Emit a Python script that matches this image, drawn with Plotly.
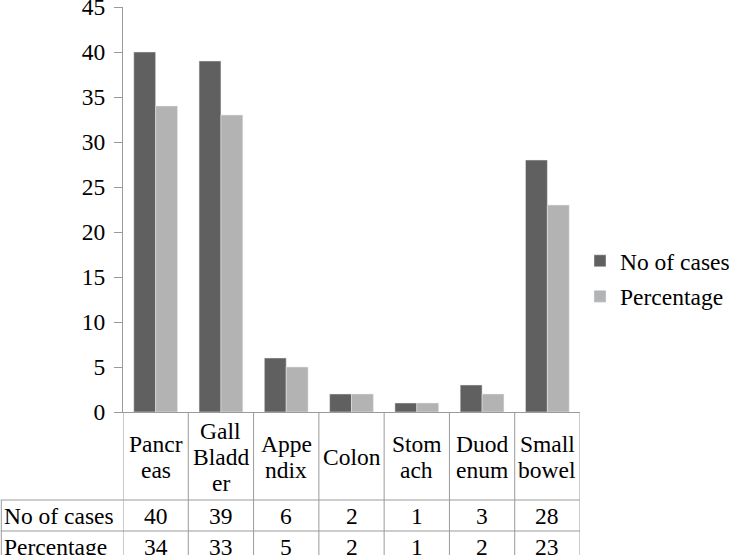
import plotly.graph_objects as go

categories = ["Pancreas", "Gall Bladder", "Appendix", "Colon", "Stomach", "Duodenum", "Small bowel"]
cat_labels = [["Pancr", "eas"], ["Gall", "Bladd", "er"], ["Appe", "ndix"], ["Colon"],
              ["Stom", "ach"], ["Duod", "enum"], ["Small", "bowel"]]
no_of_cases = [40, 39, 6, 2, 1, 3, 28]
percentage = [34, 33, 5, 2, 1, 2, 23]
series_names = ["No of cases", "Percentage"]

FONT = "Times New Roman, Liberation Serif, serif"
FS = 23.5
DARK = "#606060"
LIGHT = "#b3b3b3"
LINE = "#9a9a9a"

W, H = 732, 555
L, R, T, B = 123, 149, 7, 143
PW = W - L - R
PH = H - T - B

def py(pix):
    return (H - B - pix) / PH

def px(pix):
    return (pix - L) / PW

xs = list(range(len(categories)))

fig = go.Figure()
fig.add_trace(go.Bar(x=xs, y=no_of_cases, name=series_names[0], marker_color=DARK, legendgroup="a"))
fig.add_trace(go.Bar(x=xs, y=percentage, name=series_names[1], marker_color=LIGHT, legendgroup="b"))

shapes = []
annotations = []
y_cat_bottom = 500
y_row1_bottom = 531
y_row2_bottom = 562

for i in range(len(categories) + 1):
    shapes.append(dict(type="line", xref="x", yref="paper", x0=i - 0.5, x1=i - 0.5,
                       y0=0, y1=py(y_row2_bottom), line=dict(color=LINE, width=1)))
shapes.append(dict(type="line", xref="paper", yref="paper", x0=px(0.5), x1=px(0.5),
                   y0=py(y_cat_bottom), y1=py(y_row2_bottom), line=dict(color=LINE, width=1)))
for yy in [y_cat_bottom, y_row1_bottom]:
    shapes.append(dict(type="line", xref="paper", yref="paper", x0=px(0), x1=1,
                       y0=py(yy), y1=py(yy), line=dict(color=LINE, width=1)))

LH = 26
mid = 457
for i, lines in enumerate(cat_labels):
    n = len(lines)
    for k, ln in enumerate(lines):
        yc = mid + (k - (n - 1) / 2) * LH
        annotations.append(dict(x=i, xref="x", y=py(yc), yref="paper",
                                text=ln, showarrow=False, xanchor="center", yanchor="middle",
                                font=dict(family=FONT, size=FS, color="black")))
rows = [(series_names[0], no_of_cases, (y_cat_bottom + y_row1_bottom) / 2),
        (series_names[1], percentage, (y_row1_bottom + y_row2_bottom) / 2)]
for name, vals, yc in rows:
    annotations.append(dict(x=px(1), xref="paper", y=py(yc), yref="paper", text=name,
                            showarrow=False, xanchor="left", yanchor="middle",
                            font=dict(family=FONT, size=FS, color="black")))
    for i, v in enumerate(vals):
        annotations.append(dict(x=i, xref="x", y=py(yc), yref="paper", text=str(v),
                                showarrow=False, xanchor="center", yanchor="middle",
                                font=dict(family=FONT, size=FS, color="black")))

fig.update_layout(
    width=W, height=H, autosize=False,
    margin=dict(l=L, r=R, t=T, b=B, pad=0),
    plot_bgcolor="white", paper_bgcolor="white",
    barmode="group", bargap=0.33, bargroupgap=0,
    font=dict(family=FONT, size=FS, color="black"),
    xaxis=dict(range=[-0.5, 6.5], showticklabels=False, ticks="", showgrid=False,
               zeroline=False, showline=True, linecolor=LINE, linewidth=1, automargin=False),
    yaxis=dict(range=[0, 45.001], dtick=5, tick0=0, ticks="outside", ticklen=8, tickcolor=LINE,
               showgrid=False, zeroline=False, showline=True, linecolor=LINE, linewidth=1,
               tickfont=dict(family=FONT, size=FS, color="black"), ticklabelstandoff=4,
               ticklabeloverflow="allow", automargin=False),
    legend=dict(xref="container", yref="container", x=580 / W, y=1 - 279 / H,
                xanchor="left", yanchor="middle",
                font=dict(family=FONT, size=FS, color="black"), itemwidth=30,
                traceorder="grouped", tracegroupgap=2, bgcolor="rgba(0,0,0,0)"),
    shapes=shapes, annotations=annotations,
)

fig.write_html(
    "out.html",
    config={"displayModeBar": False},
    post_script="document.body.style.margin='0';document.body.style.overflow='hidden';",
)
